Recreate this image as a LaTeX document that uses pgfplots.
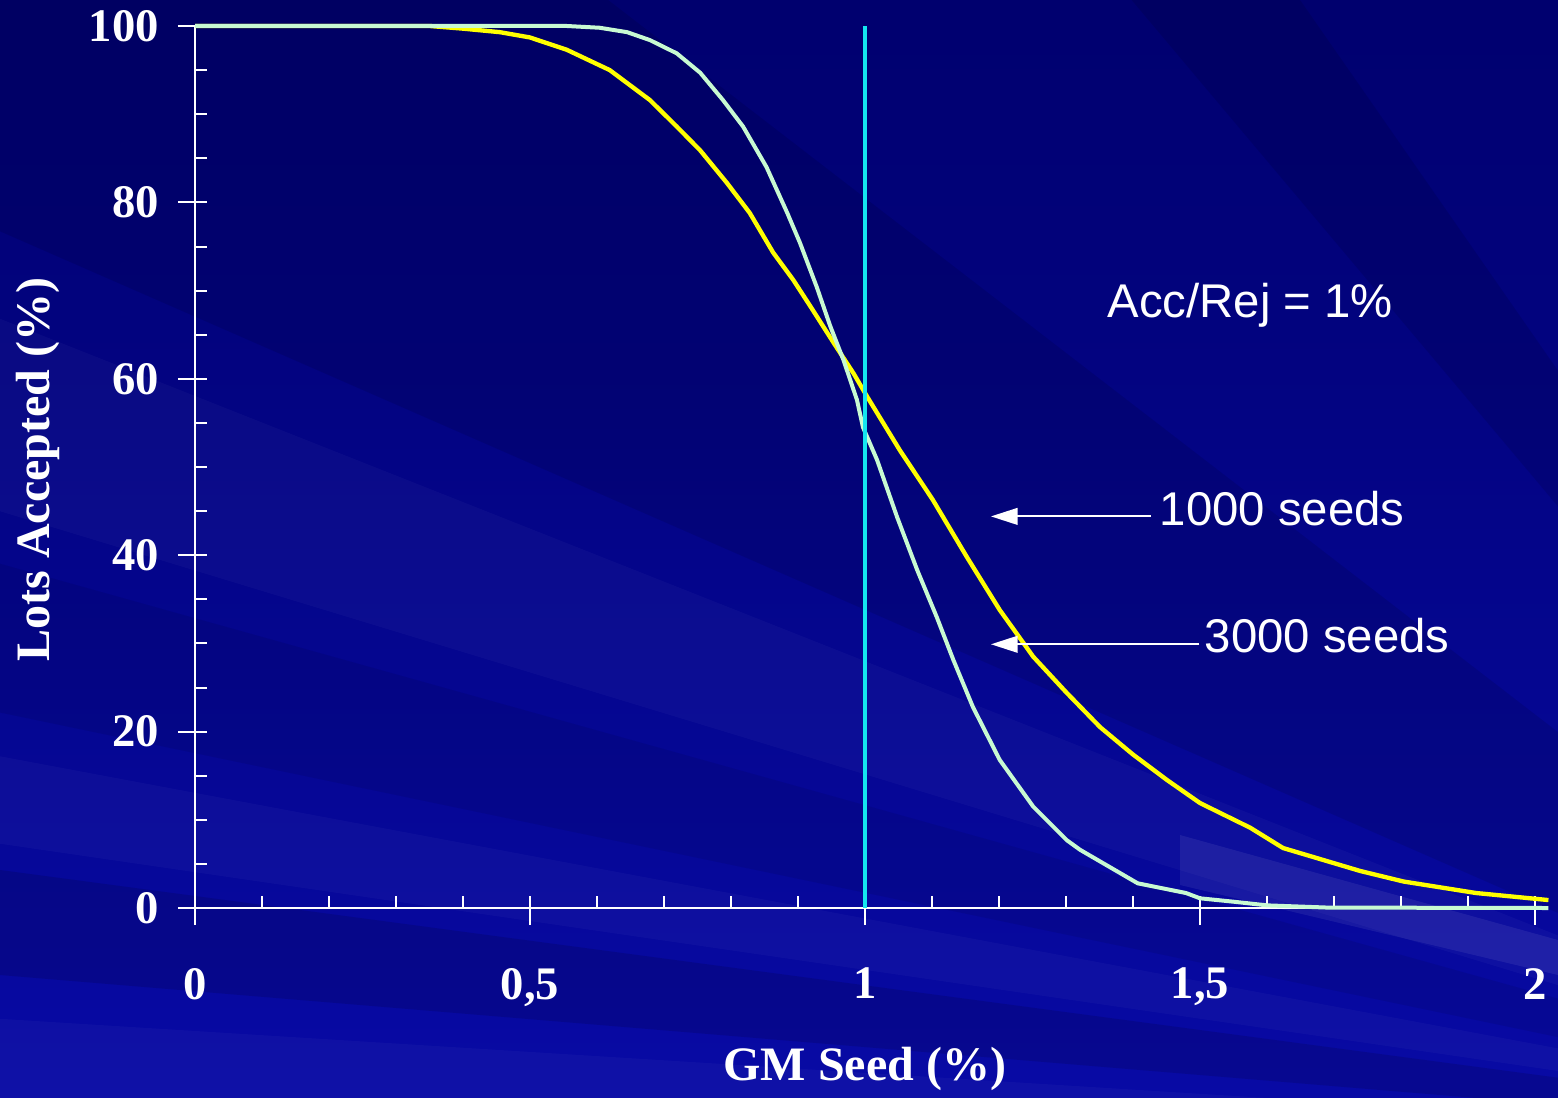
\documentclass[border=0pt]{standalone}
\usepackage{fontspec}
\setmainfont{Liberation Serif}
\newfontfamily\arialfont{Liberation Sans}
\usepackage{pgfplots}
\pgfplotsset{compat=1.18}
\usetikzlibrary{arrows.meta}
\definecolor{bgtop}{RGB}{0,0,110}
\definecolor{bgmid}{RGB}{0,0,140}
\definecolor{bgbot}{RGB}{8,10,165}
\definecolor{mint}{RGB}{200,250,210}
\definecolor{vline}{RGB}{20,230,240}
\definecolor{yel}{RGB}{255,255,0}
\begin{document}
\begin{tikzpicture}
\begin{scope}[x=0.3pt,y=-0.3pt,shift={(-58.5pt,272.4pt)}]
  \shade[top color=bgtop, middle color=bgmid, bottom color=bgbot] (0,0) rectangle (1558,1097);
  \begin{scope}
    \clip (0,0) rectangle (1558,1097);
    \fill[black, opacity=0.10] (2100,1150) -- (-300,-700) -- (-300,100) -- cycle;
    \fill[black, opacity=0.10] (2100,1150) -- (-300,-2300) -- (-300,-1700) -- cycle;
    \fill[white, opacity=0.03] (2100,1150) -- (-300,200) -- (-300,420) -- cycle;
    \fill[black, opacity=0.08] (2100,1150) -- (-300,480) -- (-300,650) -- cycle;
    \fill[white, opacity=0.03] (2100,1150) -- (-300,700) -- (-300,800) -- cycle;
    \fill[black, opacity=0.12] (2100,1150) -- (-300,830) -- (-300,950) -- cycle;
    \fill[white, opacity=0.03] (2100,1150) -- (-300,1000) -- (-300,1100) -- cycle;
    \fill[white, opacity=0.07] (1180,835) -- (1558,940) -- (1558,975) -- (1180,885) -- cycle;
  \end{scope}
\end{scope}
\begin{axis}[
  at={(0,0)}, anchor=origin,
  x=201pt, y=2.646pt,
  xmin=0, xmax=2.02, ymin=0, ymax=100,
  clip=false,
  axis x line*=bottom, axis y line*=left,
  axis line style={white, line width=0.6pt, -},
  xtick={0,0.5,1,1.5,2}, xticklabels={0,{0,5},1,{1,5},2},
  minor xtick={0.1,0.2,0.3,0.4,0.6,0.7,0.8,0.9,1.1,1.2,1.3,1.4,1.6,1.7,1.8,1.9},
  ytick={0,20,40,60,80,100}, yticklabels={0,20,40,60,80,100},
  minor ytick={5,10,15,25,30,35,45,50,55,65,70,75,85,90,95},
  tick align=inside, major tick length=3.7pt, minor tick length=3.7pt,
  tick style={white, line width=0.6pt},
  extra x ticks={0,0.5,1,1.5,2}, extra x tick labels={},
  extra x tick style={tick align=outside, major tick length=5.1pt},
  extra y ticks={0,20,40,60,80,100}, extra y tick labels={},
  extra y tick style={tick align=outside, major tick length=5.1pt},
  ticklabel style={font=\fontsize{14}{14}\selectfont\bfseries, text=white},
  xticklabel style={yshift=-14.5pt},
  yticklabel style={xshift=-7.3pt},
  xlabel={GM Seed (\%)}, ylabel={Lots Accepted (\%)},
  label style={font=\fontsize{14.4}{14.4}\selectfont\bfseries, text=white},
  xlabel style={at={(axis description cs:0.495,-0.195)}, anchor=base},
  ylabel style={at={(axis description cs:-0.116,0.497)}, anchor=center},
]
\addplot[yel, line width=1.3pt] coordinates {
(0,100) (0.35,100) (0.40,99.7) (0.455,99.3) (0.50,98.7) (0.555,97.3) (0.619,95.0)
(0.679,91.6) (0.719,88.6) (0.754,85.9) (0.794,82.2) (0.828,78.8) (0.863,74.3)
(0.893,71.2) (0.922,67.8) (0.953,64.1) (0.983,60.6) (1.003,58.0) (1.052,51.9)
(1.101,46.3) (1.152,39.8) (1.201,33.8) (1.251,28.5) (1.301,24.4) (1.351,20.5)
(1.40,17.4) (1.451,14.5) (1.50,11.9) (1.575,9.1) (1.624,6.8) (1.739,4.2)
(1.804,3.0) (1.912,1.7) (2.02,0.9)
};
\addplot[mint, line width=1.2pt] coordinates {
(0,100) (0.555,100) (0.604,99.8) (0.645,99.3) (0.679,98.4) (0.719,96.9) (0.754,94.7)
(0.788,91.6) (0.818,88.6) (0.853,84.0) (0.884,78.8) (0.903,75.4) (0.928,70.4)
(0.948,66.0) (0.968,62.1) (0.988,57.6) (0.997,54.5) (1.018,50.8) (1.048,44.3)
(1.078,38.3) (1.107,33.0) (1.132,28.1) (1.161,22.8) (1.201,16.8) (1.251,11.5)
(1.301,7.7) (1.321,6.6) (1.407,2.8) (1.479,1.7) (1.50,1.1) (1.552,0.7) (1.60,0.3)
(1.69,0.05) (2.02,0)
};
\addplot[vline, line width=1.2pt] coordinates {(1,0) (1,100)};
\draw[white, line width=0.6pt, -{Triangle[length=8pt,width=5pt]}] (axis cs:1.427,44.4) -- (axis cs:1.188,44.4);
\draw[white, line width=0.6pt, -{Triangle[length=8pt,width=5pt]}] (axis cs:1.499,29.9) -- (axis cs:1.188,29.9);
\node[anchor=base west, inner sep=0pt, text=white, font=\arialfont\fontsize{14.2}{14.2}\selectfont] at (axis cs:1.361,66.9) {Acc/Rej = 1\%};
\node[anchor=base west, inner sep=0pt, text=white, font=\arialfont\fontsize{14.2}{14.2}\selectfont] at (axis cs:1.439,43.4) {1000 seeds};
\node[anchor=base west, inner sep=0pt, text=white, font=\arialfont\fontsize{14.2}{14.2}\selectfont] at (axis cs:1.506,29.0) {3000 seeds};
\end{axis}
\pgfresetboundingbox
\useasboundingbox (-58.5pt,-56.7pt) rectangle (408.9pt,272.4pt);
\end{tikzpicture}
\end{document}
